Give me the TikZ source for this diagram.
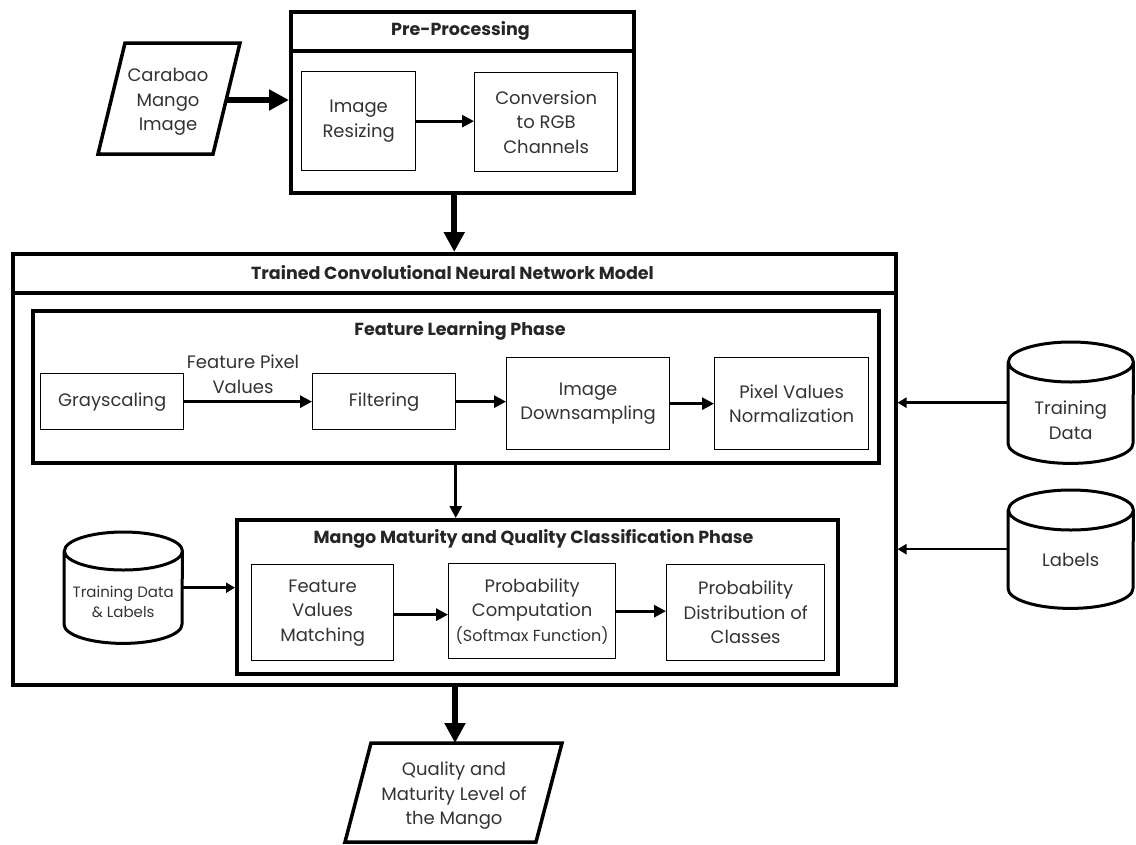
\documentclass[tikz,border=0pt]{standalone}
\usepackage{fontspec}
\setmainfont{Poppins}
\usetikzlibrary{arrows.meta,calc}
\newcommand\drawdbcyl[3]{%
  \draw[db] ([yshift=-#3]#1.north west) -- ([yshift=#3]#1.south west)
    arc[start angle=180,end angle=360,x radius=#2,y radius=#3]
    -- ([yshift=-#3]#1.north east)
    arc[start angle=0,end angle=180,x radius=#2,y radius=#3]
    arc[start angle=180,end angle=360,x radius=#2,y radius=#3];}
\begin{document}
\begin{tikzpicture}[x=1pt,y=1pt,
  txt/.style={text=black!80, font=\fontsize{18}{24.5}\selectfont, align=center, inner sep=0pt},
  smalltxt/.style={text=black!80, font=\fontsize{15}{20}\selectfont, align=center, inner sep=0pt},
  box/.style={draw, line width=1.3pt, txt, anchor=north west},
  frame/.style={draw, line width=3.5pt, inner sep=0pt, anchor=north west},
  para/.style={draw, line width=3.5pt, line join=miter},
  title/.style={font=\fontsize{17.5}{21}\selectfont\bfseries, text=black!85, inner sep=0pt},
  bigarrow/.style={line width=6pt, -{Triangle[length=20pt,width=20pt]}},
  arr/.style={line width=2.8pt, -{Triangle[length=12pt,width=12pt]}},
  sidearr/.style={line width=2.5pt, -{Triangle[length=9pt,width=10pt]}},
  hidden/.style={inner sep=0pt, anchor=north west},
  db/.style={line width=3pt},
]
\useasboundingbox (0,0) rectangle (1136,-844);

% ---------- Pre-processing ----------
\node[frame, minimum width=343pt, minimum height=181pt] (pre) at (289,-10) {};
\draw[line width=3.5pt] ([yshift=-41pt]pre.north west) -- ([yshift=-41pt]pre.north east);
\node[title] (pretitle) at (460.5,-30.5) {Pre-Processing};
\node[box, minimum width=114pt, minimum height=99pt] (resize) at (301,-71) {Image\\Resizing};
\node[box, minimum width=143pt, minimum height=99pt] (conv) at (474,-72) {Conversion\\to RGB\\Channels};
\draw[arr] (resize.east) -- (resize.east -| conv.west);

% ---------- Input ----------
\draw[para] (125,-43) -- (240,-43) -- (213,-154) -- (98,-154) -- cycle;
\node[txt] (carabao) at (168,-102) {Carabao\\Mango\\Image};
\coordinate (carabaoR) at (226,-100);
\draw[bigarrow] (carabaoR) -- (carabaoR -| pre.west);

% ---------- CNN ----------
\node[frame, minimum width=883pt, minimum height=431pt] (cnn) at (11,-252) {};
\draw[line width=3.5pt] ([yshift=-41pt]cnn.north west) -- ([yshift=-41pt]cnn.north east);
\node[title] (cnntitle) at (452.5,-272.5) {Trained Convolutional Neural Network Model};
\draw[bigarrow] (pre.south -| cnn.north) -- (cnn.north);

% Feature learning
\node[frame, minimum width=846pt, minimum height=152pt] (fl) at (31,-309) {};
\node[title] (fltitle) at (460,-331) {Feature Learning Phase};
\node[box, minimum width=143pt, minimum height=56pt] (gray) at (40,-373) {Grayscaling};
\node[box, minimum width=143pt, minimum height=56pt] (filter) at (312,-373) {Filtering};
\node[box, minimum width=163pt, minimum height=92pt] (downs) at (506,-357) {Image\\Downsampling};
\node[box, minimum width=154pt, minimum height=92pt] (norm) at (714,-357) {Pixel Values\\Normalization};
\node[txt] (fpv) at (243,-374) {Feature Pixel\\Values};
\draw[arr] (gray.east) -- (filter.west);
\draw[arr] (filter.east) -- (filter.east -| downs.west);
\draw[arr] (downs.east) -- (norm.west);

% Classification
\node[frame, minimum width=601pt, minimum height=154pt] (mmq) at (235,-518) {};
\node[title] (mmqtitle) at (533.5,-539) {Mango Maturity and Quality Classification Phase};
\node[box, minimum width=142pt, minimum height=96pt] (fvm) at (251,-564) {Feature\\Values\\Matching};
\node[box, minimum width=167pt, minimum height=95pt] (pc) at (448,-563) {Probability\\Computation\\{\fontsize{16}{24.5}\selectfont(Softmax Function)}};
\node[box, minimum width=158pt, minimum height=96pt] (pd) at (666,-564) {Probability\\Distribution of\\Classes};
\draw[arr] (fl.south) -- (fl.south |- mmq.north);
\draw[arr] ([yshift=-2pt]fvm.east) -- ([yshift=-2pt]fvm.east -| pc.west);
\draw[arr] (pc.east) -- (pc.east -| pd.west);

% Databases
\node[hidden, minimum width=118pt, minimum height=111pt] (tdl) at (64,-532) {};
\drawdbcyl{tdl}{59pt}{19pt}
\node[smalltxt] (tdltxt) at ([yshift=-14.5pt]tdl.center) {Training Data\\\& Labels};
\draw[sidearr] (tdl.east) -- (tdl.east -| mmq.west);

\node[hidden, minimum width=125pt, minimum height=121pt] (tdata) at (1008,-342) {};
\drawdbcyl{tdata}{62.5pt}{20pt}
\node[txt] (tdatatxt) at ([yshift=-17.5pt]tdata.center) {Training\\Data};
\draw[sidearr] (tdata.west) -- (tdata.west -| cnn.east);

\node[hidden, minimum width=125pt, minimum height=118pt] (labels) at (1008,-490) {};
\drawdbcyl{labels}{62.5pt}{20pt}
\node[txt] (labelstxt) at ([yshift=-11pt]labels.center) {Labels};
\draw[sidearr] (labels.west) -- (labels.west -| cnn.east);

% ---------- Output ----------
\draw[para] (371,-743) -- (562,-743) -- (536,-842) -- (345,-842) -- cycle;
\node[txt] (outtxt) at (454,-796) {Quality and\\Maturity Level of\\the Mango};
\coordinate (outtop) at (455,-743);
\draw[bigarrow] (cnn.south -| outtop) -- (outtop);
\end{tikzpicture}
\end{document}
